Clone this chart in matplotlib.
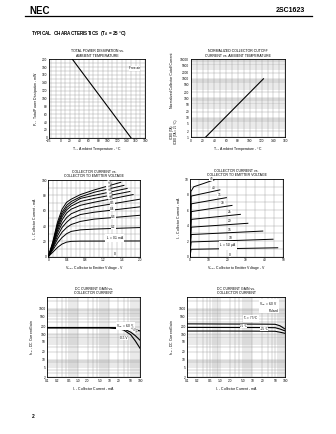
import numpy as np
import matplotlib
matplotlib.use("Agg")
import matplotlib.pyplot as plt
from matplotlib.lines import Line2D
from matplotlib.ticker import MultipleLocator, FixedLocator, NullFormatter, LogLocator

plt.rcParams['font.family'] = ['Liberation Sans', 'DejaVu Sans']
plt.rcParams['mathtext.fontset'] = 'custom'
plt.rcParams['mathtext.rm'] = 'Liberation Sans'
plt.rcParams['mathtext.it'] = 'Liberation Sans'

# --- total power dissipation vs ambient temperature
pd_temp = [25, 150]
pd_power = [200, 0]

# --- normalized ICBO vs ambient temperature
icbo_temp = [25, 123]
icbo_ratio = [1, 1000]

# --- IC vs VCE (IB in mA)
ib_ma = ['0.1', '0.2', '0.3', '0.4', '0.5', '0.6', '0.7', '0.8', '0.9', '1.0']
vce_a = [
    [0, 0.1, 0.2, 0.3, 0.4, 0.5, 0.7, 2.0],
    [0, 0.1, 0.2, 0.3, 0.4, 0.5, 0.7, 1.0, 2.0],
    [0, 0.1, 0.2, 0.3, 0.4, 0.5, 0.7, 1.0, 2.0],
    [0, 0.1, 0.2, 0.3, 0.4, 0.5, 0.7, 1.0, 2.0],
    [0, 0.1, 0.2, 0.3, 0.4, 0.5, 0.7, 1.0, 2.0],
    [0, 0.1, 0.2, 0.3, 0.4, 0.5, 0.7, 1.0, 1.85],
    [0, 0.1, 0.2, 0.3, 0.4, 0.5, 0.7, 1.0, 1.78],
    [0, 0.1, 0.2, 0.3, 0.4, 0.5, 0.7, 1.0, 1.72],
    [0, 0.1, 0.2, 0.3, 0.4, 0.5, 0.7, 1.0, 1.65],
    [0, 0.1, 0.2, 0.3, 0.4, 0.5, 0.7, 1.0, 1.58],
]
ic_a = [
    [0, 6, 12, 16.5, 19, 20, 20.3, 20.5],
    [0, 9, 18, 25, 30, 33, 35, 36, 38],
    [0, 11, 23, 32, 38, 42, 46, 49, 54],
    [0, 12.5, 27, 38, 45, 50, 55, 58, 65],
    [0, 14, 31, 43, 51, 56, 61, 65, 75],
    [0, 15, 34, 48, 57, 62, 67, 71, 81],
    [0, 16, 37, 52, 61, 66, 72, 76, 85],
    [0, 17, 40, 55, 64, 69, 76, 80, 89],
    [0, 18, 42, 58, 67, 72, 78, 84, 93],
    [0, 20, 45, 62, 71, 75, 81, 87, 97],
]

# --- IC vs VCE (IB in uA)
ib_ua = ['5.0', '10', '15', '20', '25', '30', '35', '40', '45']
vce_b = [
    [0, 0.6, 47],
    [0, 0.6, 44.5],
    [0, 0.6, 39],
    [0, 0.6, 31],
    [0, 0.6, 27],
    [0, 0.6, 22.5],
    [0, 0.6, 19.5],
    [0, 0.6, 16],
    [0, 0.5, 2, 7, 13],
]
ic_b = [
    [0, 0.95, 1.15],
    [0, 1.9, 2.25],
    [0, 2.85, 3.3],
    [0, 3.8, 4.3],
    [0, 4.8, 5.45],
    [0, 5.8, 6.6],
    [0, 6.8, 7.6],
    [0, 7.8, 8.6],
    [0, 8.4, 9.0, 9.4, 9.9],
]

# --- hFE vs IC, VCE parameter
ic_c = [0.1, 10, 20, 30, 50, 70, 100]
hfe_6v = [180, 180, 178, 172, 160, 150, 135]
hfe_1v = [180, 180, 172, 160, 120, 88, 58]
hfe_05v = [180, 180, 165, 145, 95, 55, 28]

# --- hFE vs IC, temperature parameter
ic_d = [0.1, 1, 10, 30, 50, 70, 100]
hfe_75 = [255, 252, 250, 248, 245, 215, 160]
hfe_25 = [185, 184, 183, 182, 180, 160, 135]
hfe_m25 = [133, 133, 132, 131, 130, 120, 108]

W, H = 336, 434
FS = 2.5
GRID = '#9a9a9a'

fig = plt.figure(figsize=(W / 100, H / 100), dpi=100)


def ax_px(l, t, r, b):
    return fig.add_axes([l / W, 1 - b / H, (r - l) / W, (b - t) / H])


def style(ax, title, xlabel, ylabel):
    for s in ax.spines.values():
        s.set_linewidth(0.6)
    ax.tick_params(which='both', length=0, labelsize=FS - 0.2, pad=1.2)
    ax.grid(which='both', color=GRID, lw=0.3)
    ax.set_axisbelow(True)
    ax.set_title(title, fontsize=FS, pad=2, linespacing=1.1)
    ax.set_xlabel(xlabel, fontsize=FS, labelpad=1.5)
    if ylabel:
        ax.set_ylabel(ylabel, fontsize=FS, labelpad=1.5)


def label(ax, x, y, s, fs=FS - 0.2, pad=0.15, **kw):
    ax.text(x, y, s, fontsize=fs, ha='center', va='center',
            bbox=dict(fc='white', ec='none', pad=pad), zorder=5, **kw)


# header
fig.text(29 / W, 1 - 11 / H, 'NEC', fontsize=7, weight='bold', va='center')
fig.text(305 / W, 1 - 11 / H, '2SC1623', fontsize=5, weight='bold', va='center', ha='right')
fig.add_artist(Line2D([25 / W, 312 / W], [1 - 15.5 / H] * 2, lw=0.9, color='k'))
fig.text(31 / W, 1 - 34 / H, 'TYPICAL  CHARACTERISTICS  (T$_A$ = 25 °C)',
         fontsize=3.3, weight='bold', va='center')
fig.text(32 / W, 1 - 416 / H, '2', fontsize=3.5, weight='bold', va='center')

# chart 1
ax1 = ax_px(49, 59.3, 145, 137.7)
ax1.plot(pd_temp, pd_power, color='k', lw=0.8)
ax1.set_xlim(-25, 180)
ax1.set_ylim(0, 200)
ax1.xaxis.set_major_locator(FixedLocator([-25, 0, 20, 40, 60, 80, 100, 120, 140, 160, 180]))
ax1.xaxis.set_minor_locator(MultipleLocator(10))
ax1.yaxis.set_major_locator(MultipleLocator(20))
ax1.yaxis.set_minor_locator(MultipleLocator(10))
style(ax1, 'TOTAL POWER DISSIPATION vs.\nAMBIENT TEMPERATURE',
      '$T_A$ - Ambient Temperature - °C', '$P_T$ - Total Power Dissipation - mW')
label(ax1, 158, 177, 'Free air')

# chart 2
ax2 = ax_px(190.7, 59.3, 285.3, 137.3)
ax2.plot(icbo_temp, icbo_ratio, color='k', lw=0.8)
ax2.set_yscale('log')
ax2.set_xlim(0, 160)
ax2.set_ylim(1, 10000)
ax2.xaxis.set_major_locator(MultipleLocator(20))
ax2.xaxis.set_minor_locator(MultipleLocator(10))
yt2 = [1, 2, 5, 10, 20, 50, 100, 200, 500, 1000, 2000, 5000, 10000]
ax2.yaxis.set_major_locator(FixedLocator(yt2))
ax2.set_yticklabels([str(v) for v in yt2])
ax2.yaxis.set_minor_locator(LogLocator(subs=np.arange(1, 10)))
ax2.yaxis.set_minor_formatter(NullFormatter())
style(ax2, 'NORMALIZED COLLECTOR CUTOFF\nCURRENT vs. AMBIENT TEMPERATURE',
      '$T_A$ - Ambient Temperature - °C', None)
fig.text(172 / W, 1 - 80 / H, 'Normalized Collector Cutoff Current', fontsize=FS,
         rotation=90, ha='center', va='center')
fig.text(173.5 / W, 1 - 132 / H, 'ICBO (TA)\nICBO (TA = 25 °C)', fontsize=FS - 0.3,
         rotation=90, ha='center', va='center', multialignment='center', linespacing=1.0)

# chart 3
ax3 = ax_px(48.3, 180, 140, 256.7)
for v, i in zip(vce_a, ic_a):
    ax3.plot(v, i, color='k', lw=0.7)
ax3.set_xlim(0, 2.0)
ax3.set_ylim(0, 100)
ax3.xaxis.set_major_locator(FixedLocator([0, 0.4, 0.8, 1.2, 1.6, 2.0]))
ax3.set_xticklabels(['0', '0.4', '0.8', '1.2', '1.6', '2.0'])
ax3.xaxis.set_minor_locator(MultipleLocator(0.1))
ax3.yaxis.set_major_locator(MultipleLocator(20))
ax3.yaxis.set_minor_locator(MultipleLocator(10))
style(ax3, 'COLLECTOR CURRENT vs.\nCOLLECTOR TO EMITTER VOLTAGE',
      '$V_{CE}$ - Collector to Emitter Voltage - V', '$I_C$ - Collector Current - mA')
for k, (x, y) in enumerate([(1.3, 96), (1.31, 91.5), (1.32, 87), (1.33, 82.5), (1.34, 78)]):
    label(ax3, x, y, ib_ma[9 - k], rotation=-70)
label(ax3, 1.4, 70, ib_ma[4])
label(ax3, 1.4, 62, ib_ma[3])
label(ax3, 1.42, 52, ib_ma[2])
label(ax3, 1.42, 39, ib_ma[1])
label(ax3, 1.45, 24, '$I_B$ = ' + ib_ma[0] + ' mA')
label(ax3, 1.45, 3, '0')

# chart 4
ax4 = ax_px(190, 179, 283.3, 256.7)
for v, i in zip(vce_b, ic_b):
    ax4.plot(v, i, color='k', lw=0.7)
ax4.set_xlim(0, 50)
ax4.set_ylim(0, 10)
ax4.xaxis.set_major_locator(MultipleLocator(10))
ax4.xaxis.set_minor_locator(MultipleLocator(5))
ax4.yaxis.set_major_locator(MultipleLocator(2))
ax4.yaxis.set_minor_locator(MultipleLocator(1))
style(ax4, 'COLLECTOR CURRENT vs.\nCOLLECTOR TO EMITTER VOLTAGE',
      '$V_{CE}$ - Collector to Emitter Voltage - V', '$I_C$ - Collector Current - mA')
lab4 = [(20.5, 1.45), (21.8, 2.45), (21.4, 3.45), (21.4, 4.55), (21.4, 5.75),
        (17.5, 6.9), (15.7, 7.9), (12.5, 8.85), (11.5, 10.05)]
for k, (x, y) in enumerate(lab4):
    s = '$I_B$ = ' + ib_ua[k] + ' µA' if k == 0 else ib_ua[k]
    t = ax4.text(x, y, s, fontsize=FS - 0.2, ha='center', va='center', zorder=5,
                 bbox=dict(fc='white', ec='none', pad=0.1))
    t.set_clip_on(False)
label(ax4, 21.4, 0.25, '0')


def log_axes(ax):
    ax.set_xscale('log')
    ax.set_yscale('log')
    ax.set_xlim(0.1, 100)
    ax.set_ylim(2, 3000)
    xt = [0.1, 0.2, 0.5, 1, 2, 5, 10, 20, 50, 100]
    ax.xaxis.set_major_locator(FixedLocator(xt))
    ax.set_xticklabels(['0.1', '0.2', '0.5', '1.0', '2.0', '5.0', '10', '20', '50', '100'])
    yt = [2, 5, 10, 20, 50, 100, 200, 500, 1000]
    ax.yaxis.set_major_locator(FixedLocator(yt))
    ax.set_yticklabels([str(v) for v in yt])
    for a in (ax.xaxis, ax.yaxis):
        a.set_minor_locator(LogLocator(subs=np.arange(1, 10)))
        a.set_minor_formatter(NullFormatter())


# chart 5
ax5 = ax_px(47.3, 296.7, 140, 377.3)
log_axes(ax5)
ax5.plot(ic_c, hfe_6v, color='k', lw=0.8)
ax5.plot(ic_c, hfe_1v, color='k', lw=0.8)
ax5.plot(ic_c, hfe_05v, color='k', lw=0.8)
style(ax5, 'DC CURRENT GAIN vs.\nCOLLECTOR CURRENT', '$I_C$ - Collector Current - mA',
      '$h_{FE}$ - DC Current Gain')
label(ax5, 33, 205, '$V_{CE}$ = 6.0 V')
label(ax5, 62, 150, '1.0 V', rotation=-40)
label(ax5, 30, 70, '0.5 V')

# chart 6
ax6 = ax_px(187.3, 296.7, 285, 377.3)
log_axes(ax6)
ax6.plot(ic_d, hfe_75, color='k', lw=0.8)
ax6.plot(ic_d, hfe_25, color='k', lw=0.8)
ax6.plot(ic_d, hfe_m25, color='k', lw=0.8)
style(ax6, 'DC CURRENT GAIN vs.\nCOLLECTOR CURRENT', '$I_C$ - Collector Current - mA',
      '$h_{FE}$ - DC Current Gain')
label(ax6, 9, 420, '$T_A$ = 75 °C', fs=2.1, pad=0.05)
label(ax6, 5.5, 216, '25 °C', fs=2.0, pad=0.0)
label(ax6, 22, 157, '-25 °C', fs=2.0, pad=0.0)
ax6.text(0.93, 0.95, '$V_{CE}$ = 6.0 V\nPulsed', transform=ax6.transAxes, fontsize=FS - 0.2,
         ha='right', va='top', linespacing=1.1, bbox=dict(fc='white', ec='none', pad=0.3))

fig.savefig('out.png', dpi=100)
